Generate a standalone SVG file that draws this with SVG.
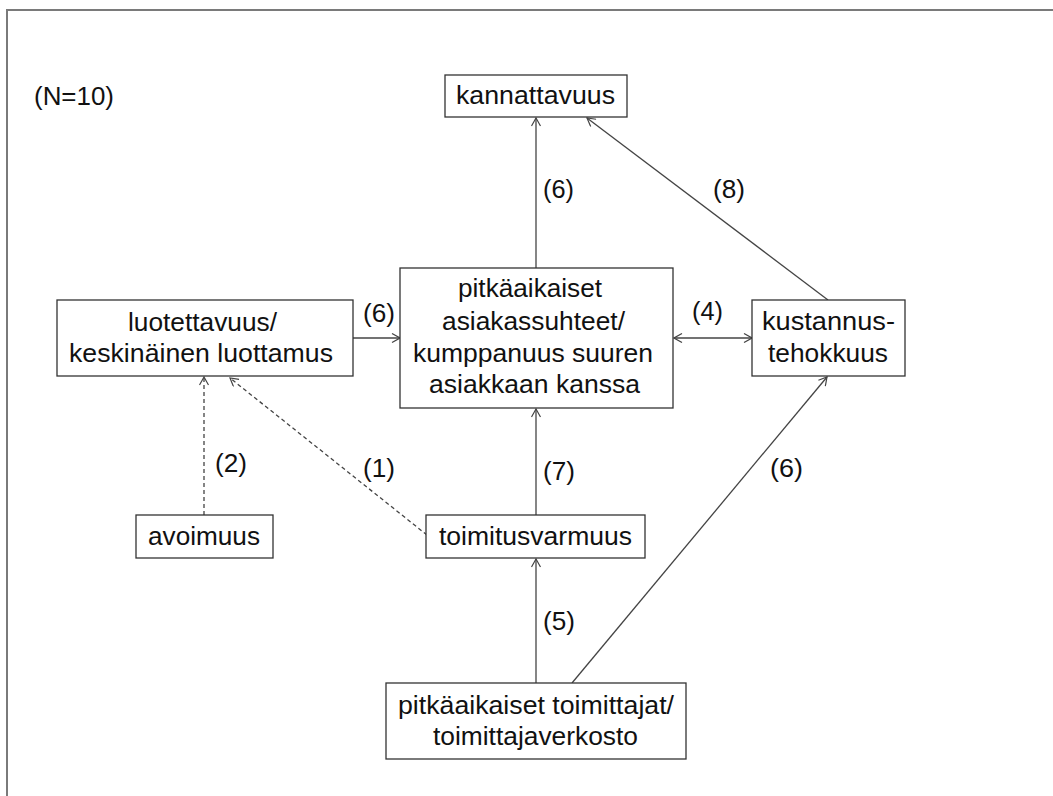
<svg xmlns="http://www.w3.org/2000/svg" width="1053" height="796" viewBox="0 0 1053 796">
  <defs>
    <marker id="arrow" viewBox="0 0 10 10" refX="9" refY="5" markerWidth="10" markerHeight="10" markerUnits="userSpaceOnUse" orient="auto-start-reverse">
      <path d="M1,0.5 L9,5 L1,9.5" fill="none" stroke="#444" stroke-width="1.2"/>
    </marker>
  </defs>
  <style>
    .frame { fill: none; stroke: #7a7a7a; stroke-width: 2; }
    .box { fill: #fff; stroke: #333; stroke-width: 1.3; }
    .t { font-family: "Liberation Sans", Arial, sans-serif; font-size: 25.5px; fill: #111; }
    .edge { fill: none; stroke: #444; stroke-width: 1.3; }
    .dash { stroke-dasharray: 4 3; }
  </style>

  <rect width="1053" height="796" fill="#fff"/>
  <!-- page frame: only the top and left edges lie inside the canvas -->
  <path class="frame" d="M7,796 L7,10 L1053,10"/>

  <text class="t" x="34" y="105" textLength="80" lengthAdjust="spacingAndGlyphs">(N=10)</text>

  <!-- connectors -->
  <g id="connectors">
    <line class="edge" x1="536" y1="268" x2="536" y2="118" marker-end="url(#arrow)"/>
    <line class="edge" x1="828" y1="300" x2="587" y2="118" marker-end="url(#arrow)"/>
    <line class="edge" x1="353" y1="338" x2="400" y2="338" marker-end="url(#arrow)"/>
    <line class="edge" x1="674" y1="338" x2="752" y2="338" marker-start="url(#arrow)" marker-end="url(#arrow)"/>
    <line class="edge dash" x1="204" y1="515" x2="204" y2="377" marker-end="url(#arrow)"/>
    <line class="edge dash" x1="427" y1="535" x2="230" y2="378" marker-end="url(#arrow)"/>
    <line class="edge" x1="536" y1="515" x2="536" y2="409" marker-end="url(#arrow)"/>
    <line class="edge" x1="536" y1="683" x2="536" y2="559" marker-end="url(#arrow)"/>
    <line class="edge" x1="572" y1="683" x2="827" y2="377" marker-end="url(#arrow)"/>

    <text class="t" x="543" y="198" textLength="31" lengthAdjust="spacingAndGlyphs">(6)</text>
    <text class="t" x="713" y="198" textLength="32" lengthAdjust="spacingAndGlyphs">(8)</text>
    <text class="t" x="363" y="322" textLength="32" lengthAdjust="spacingAndGlyphs">(6)</text>
    <text class="t" x="692" y="320" textLength="31" lengthAdjust="spacingAndGlyphs">(4)</text>
    <text class="t" x="215" y="472" textLength="32" lengthAdjust="spacingAndGlyphs">(2)</text>
    <text class="t" x="363" y="477" textLength="32" lengthAdjust="spacingAndGlyphs">(1)</text>
    <text class="t" x="543" y="480" textLength="32" lengthAdjust="spacingAndGlyphs">(7)</text>
    <text class="t" x="770" y="477" textLength="33" lengthAdjust="spacingAndGlyphs">(6)</text>
    <text class="t" x="543" y="630" textLength="32" lengthAdjust="spacingAndGlyphs">(5)</text>
  </g>

  <g id="kannattavuus">
    <rect class="box" x="445" y="75" width="182" height="42"/>
    <text class="t" x="456" y="104" textLength="159" lengthAdjust="spacingAndGlyphs">kannattavuus</text>
  </g>

  <g id="luotettavuus">
    <rect class="box" x="57" y="300" width="296" height="76"/>
    <text class="t" x="128" y="331" textLength="149" lengthAdjust="spacingAndGlyphs">luotettavuus/</text>
    <text class="t" x="69" y="362" textLength="264" lengthAdjust="spacingAndGlyphs">keskinäinen luottamus</text>
  </g>

  <g id="asiakassuhteet">
    <rect class="box" x="400" y="268" width="273" height="140"/>
    <text class="t" x="458" y="297" textLength="144" lengthAdjust="spacingAndGlyphs">pitkäaikaiset</text>
    <text class="t" x="442" y="330" textLength="183" lengthAdjust="spacingAndGlyphs">asiakassuhteet/</text>
    <text class="t" x="413" y="362" textLength="240" lengthAdjust="spacingAndGlyphs">kumppanuus suuren</text>
    <text class="t" x="429" y="393" textLength="211" lengthAdjust="spacingAndGlyphs">asiakkaan  kanssa</text>
  </g>

  <g id="kustannustehokkuus">
    <rect class="box" x="752" y="300" width="153" height="76"/>
    <text class="t" x="762" y="330" textLength="133" lengthAdjust="spacingAndGlyphs">kustannus-</text>
    <text class="t" x="768" y="362" textLength="120" lengthAdjust="spacingAndGlyphs">tehokkuus</text>
  </g>

  <g id="avoimuus">
    <rect class="box" x="136" y="515" width="137" height="43"/>
    <text class="t" x="148" y="545" textLength="112" lengthAdjust="spacingAndGlyphs">avoimuus</text>
  </g>

  <g id="toimitusvarmuus">
    <rect class="box" x="426" y="515" width="219" height="43"/>
    <text class="t" x="439" y="545" textLength="193" lengthAdjust="spacingAndGlyphs">toimitusvarmuus</text>
  </g>

  <g id="toimittajat">
    <rect class="box" x="386" y="683" width="300" height="76"/>
    <text class="t" x="398" y="714" textLength="276" lengthAdjust="spacingAndGlyphs">pitkäaikaiset toimittajat/</text>
    <text class="t" x="433" y="745" textLength="205" lengthAdjust="spacingAndGlyphs">toimittajaverkosto</text>
  </g>
</svg>
